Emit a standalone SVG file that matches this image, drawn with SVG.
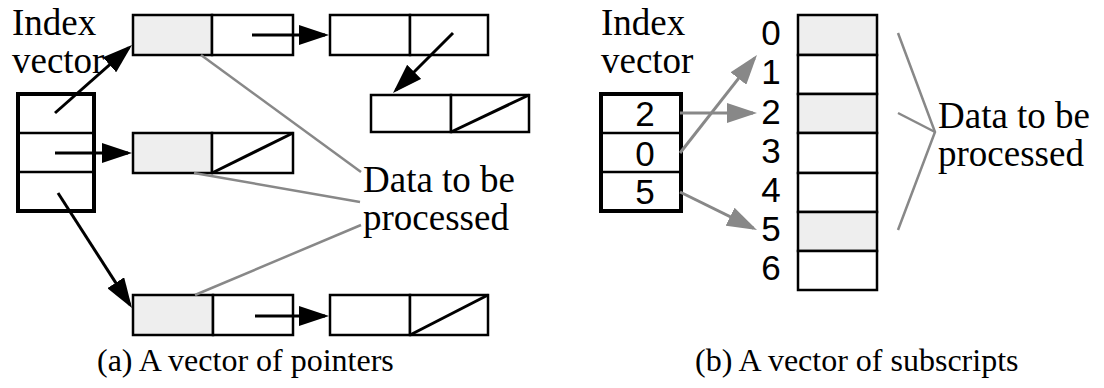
<svg xmlns="http://www.w3.org/2000/svg" width="1104" height="388" viewBox="0 0 1104 388">
  <style>
    .lbl { font-family: "Liberation Serif", "Times New Roman", serif; font-size: 37px; fill: #000; }
    .cap { font-family: "Liberation Serif", "Times New Roman", serif; font-size: 32px; fill: #000; }
    .num { font-family: "Liberation Sans", Arial, sans-serif; font-size: 35px; fill: #000; }
    .cell { fill: #fff; stroke: #000; stroke-width: 2.5; }
    .shade { fill: #eeeeee; stroke: #000; stroke-width: 2.5; }
    .frame { fill: none; stroke: #000; stroke-width: 4; }
    .div { stroke: #000; stroke-width: 2.5; }
    .nil { stroke: #000; stroke-width: 3; }
    .ptr { stroke: #000; stroke-width: 3; fill: none; marker-end: url(#headBlack); }
    .sub { stroke: #888; stroke-width: 3; fill: none; marker-end: url(#headGray); }
    .note { stroke: #888; stroke-width: 2.5; fill: none; }
  </style>
  <defs>
    <marker id="headBlack" markerUnits="userSpaceOnUse" markerWidth="30" markerHeight="20" refX="26" refY="10" orient="auto">
      <path d="M0,0 L30,10 L0,20 z" fill="#000"/>
    </marker>
    <marker id="headGray" markerUnits="userSpaceOnUse" markerWidth="30" markerHeight="20" refX="26" refY="10" orient="auto">
      <path d="M0,0 L30,10 L0,20 z" fill="#888"/>
    </marker>
  </defs>

  <!-- (a) vector of pointers -->
  <g id="a-index-label">
    <text class="lbl" x="12" y="35">Index</text>
    <text class="lbl" x="12" y="73">vector</text>
  </g>

  <g id="a-index-vector">
    <rect x="18" y="94" width="76" height="117" fill="#fff"/>
    <line class="div" x1="18" y1="133" x2="94" y2="133"/>
    <line class="div" x1="18" y1="172" x2="94" y2="172"/>
    <rect class="frame" x="18" y="94" width="76" height="117"/>
  </g>

  <g id="a-node-top1">
    <rect class="shade" x="133" y="15" width="79" height="40"/>
    <rect class="cell" x="212" y="15" width="81" height="40"/>
  </g>
  <g id="a-node-top2">
    <rect class="cell" x="330" y="15" width="80" height="40"/>
    <rect class="cell" x="410" y="15" width="78" height="40"/>
  </g>
  <g id="a-node-top3">
    <rect class="cell" x="371" y="95" width="80" height="37"/>
    <rect class="cell" x="451" y="95" width="78" height="37"/>
    <line class="nil" x1="451" y1="132" x2="529" y2="95"/>
  </g>
  <g id="a-node-mid">
    <rect class="shade" x="133" y="133" width="79" height="40"/>
    <rect class="cell" x="212" y="133" width="81" height="40"/>
    <line class="nil" x1="212" y1="173" x2="293" y2="133"/>
  </g>
  <g id="a-node-bot1">
    <rect class="shade" x="133" y="295" width="80" height="40"/>
    <rect class="cell" x="213" y="295" width="80" height="40"/>
  </g>
  <g id="a-node-bot2">
    <rect class="cell" x="330" y="295" width="80" height="40"/>
    <rect class="cell" x="410" y="295" width="78" height="40"/>
    <line class="nil" x1="410" y1="335" x2="488" y2="295"/>
  </g>

  <g id="a-data-label">
    <text class="lbl" x="363" y="192">Data to be</text>
    <text class="lbl" x="363" y="230">processed</text>
  </g>

  <g id="a-connectors">
    <line class="ptr" x1="55" y1="113" x2="129" y2="47.6"/>
    <line class="ptr" x1="55" y1="153" x2="128" y2="153"/>
    <line class="ptr" x1="58" y1="193" x2="129.8" y2="304.6"/>
    <line class="ptr" x1="252" y1="35" x2="325" y2="35"/>
    <line class="ptr" x1="453" y1="33" x2="395.8" y2="90.2"/>
    <line class="ptr" x1="255" y1="316" x2="325" y2="316"/>
    <line class="note" x1="201" y1="55" x2="361" y2="172"/>
    <line class="note" x1="194" y1="173" x2="360" y2="202"/>
    <line class="note" x1="195" y1="295" x2="361" y2="225"/>
  </g>

  <text class="cap" x="97" y="371">(a) A vector of pointers</text>

  <!-- (b) vector of subscripts -->
  <g id="b-index-label">
    <text class="lbl" x="601" y="35">Index</text>
    <text class="lbl" x="601" y="73">vector</text>
  </g>

  <g id="b-index-vector">
    <rect x="601" y="94" width="80" height="117" fill="#fff"/>
    <line class="div" x1="601" y1="133" x2="681" y2="133"/>
    <line class="div" x1="601" y1="172" x2="681" y2="172"/>
    <rect class="frame" x="601" y="94" width="80" height="117"/>
    <text class="num" x="645" y="126" text-anchor="middle">2</text>
    <text class="num" x="645" y="166" text-anchor="middle">0</text>
    <text class="num" x="645" y="204" text-anchor="middle">5</text>
  </g>

  <g id="b-array">
    <rect class="shade" x="798" y="15" width="79" height="40"/>
    <rect class="cell" x="798" y="55" width="79" height="39"/>
    <rect class="shade" x="798" y="94" width="79" height="39"/>
    <rect class="cell" x="798" y="133" width="79" height="40"/>
    <rect class="cell" x="798" y="173" width="79" height="39"/>
    <rect class="shade" x="798" y="212" width="79" height="39"/>
    <rect class="cell" x="798" y="251" width="79" height="39"/>
  </g>

  <g id="b-subscripts" text-anchor="middle">
    <text class="num" x="771" y="45">0</text>
    <text class="num" x="771" y="84">1</text>
    <text class="num" x="771" y="124">2</text>
    <text class="num" x="771" y="163">3</text>
    <text class="num" x="771" y="202">4</text>
    <text class="num" x="771" y="241">5</text>
    <text class="num" x="771" y="280">6</text>
  </g>

  <g id="b-data-label">
    <text class="lbl" x="938" y="128">Data to be</text>
    <text class="lbl" x="938" y="166">processed</text>
  </g>

  <g id="b-connectors">
    <line class="sub" x1="680" y1="113" x2="753" y2="113"/>
    <line class="sub" x1="680" y1="153" x2="754.5" y2="58.1"/>
    <line class="sub" x1="680" y1="192" x2="753.4" y2="228.2"/>
    <polyline class="note" points="898,33 935,132 898,230"/>
    <line class="note" x1="898" y1="113" x2="935" y2="132"/>
  </g>

  <text class="cap" x="695" y="371">(b) A vector of subscripts</text>
</svg>
